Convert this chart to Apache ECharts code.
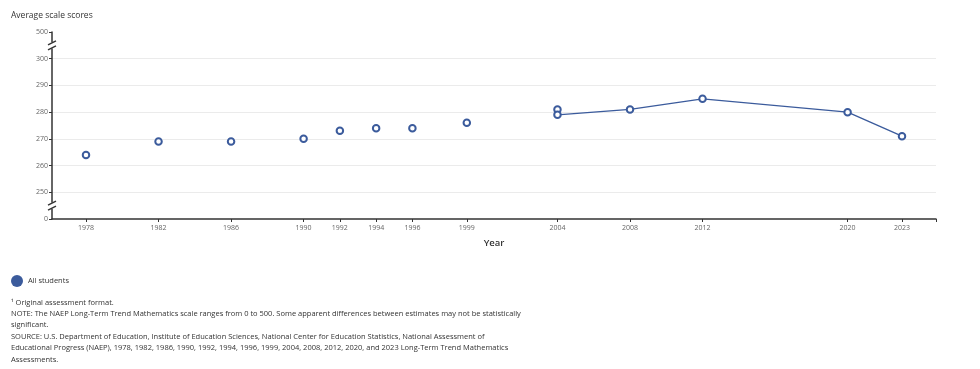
<!DOCTYPE html>
<html>
<head>
<meta charset="utf-8">
<script src="https://cdn.jsdelivr.net/npm/echarts@6/dist/echarts.min.js"></script>
<style>
html,body{margin:0;padding:0;background:#fff;}
#chart{width:980px;height:369px;}
</style>
</head>
<body>
<div id="chart"></div>
<script>
// Data
const tickYears = [1978, 1982, 1986, 1990, 1992, 1994, 1996, 1999, 2004, 2008, 2012, 2020, 2023];
const originalYears = [1978, 1982, 1986, 1990, 1992, 1994, 1996, 1999, 2004];
const originalScores = [264, 269, 269, 270, 273, 274, 274, 276, 281];
const revisedYears = [2004, 2008, 2012, 2020, 2023];
const revisedScores = [279, 281, 285, 280, 271];
const yTickValues = [250, 260, 270, 280, 290, 300];
const yBreakLowLabel = '0';
const yBreakHighLabel = '500';
const seriesName = 'All students';
const footnotes = [
  '\u00b9 Original assessment format.',
  'NOTE: The NAEP Long-Term Trend Mathematics scale ranges from 0 to 500. Some apparent differences between estimates may not be statistically',
  'significant.',
  'SOURCE: U.S. Department of Education, Institute of Education Sciences, National Center for Education Statistics, National Assessment of',
  'Educational Progress (NAEP), 1978, 1982, 1986, 1990, 1992, 1994, 1996, 1999, 2004, 2008, 2012, 2020, and 2023 Long-Term Trend Mathematics',
  'Assessments.'
];

const FONT = '"Open Sans", "Noto Sans", sans-serif';
const BLUE = '#3b5b9c';
const X_MIN = 1976.125, X_MAX = 2024.875;
const Y_MIN = 240, Y_MAX = 310;

const chart = echarts.init(document.getElementById('chart'), null, {renderer: 'canvas'});

const footGraphics = footnotes.map((t, i) => ({
  type: 'text', left: 11, top: 298.5 + i * 11.4,
  style: {text: t, font: '7.5px ' + FONT, fill: '#333'}
}));

const markerStyle = {color: BLUE, borderColor: BLUE, borderWidth: 3, opacity: 1};

chart.setOption({
  animation: false,
  backgroundColor: '#fff',
  title: {
    text: 'Average scale scores', left: 11, top: 11, padding: 0,
    textStyle: {fontFamily: FONT, fontSize: 8.5, fontWeight: 'normal', color: '#333'}
  },
  legend: {
    data: [seriesName], left: 11, top: 275, padding: 0, icon: 'circle',
    itemWidth: 12, itemHeight: 12, itemGap: 5,
    itemStyle: {color: BLUE, borderWidth: 0, opacity: 1},
    textStyle: {fontFamily: FONT, fontSize: 7.5, color: '#333'}
  },
  grid: {left: 52, right: 44, top: 32, bottom: 150, containLabel: false},
  xAxis: {
    type: 'value', min: X_MIN, max: X_MAX,
    name: 'Year', nameLocation: 'middle', nameGap: 19,
    nameTextStyle: {fontFamily: FONT, fontSize: 9.5, color: '#333', fontWeight: 600},
    axisLine: {lineStyle: {color: '#333', width: 1.5}},
    axisTick: {show: true, length: 3, customValues: tickYears.concat([X_MAX]), lineStyle: {color: '#333'}},
    axisLabel: {customValues: tickYears, fontFamily: FONT, fontSize: 7, color: '#666', margin: 5,
      formatter: v => String(v)},
    splitLine: {show: false}
  },
  yAxis: {
    type: 'value', min: Y_MIN, max: Y_MAX, interval: 10,
    axisLine: {show: true, lineStyle: {color: '#333', width: 1.5}},
    axisTick: {show: true, length: 3, lineStyle: {color: '#333'}},
    axisLabel: {
      fontFamily: FONT, fontSize: 7, color: '#666', margin: 4,
      formatter: v => v === Y_MIN ? yBreakLowLabel : (v === Y_MAX ? yBreakHighLabel : (yTickValues.indexOf(v) >= 0 ? String(v) : ''))
    },
    splitLine: {show: true, showMinLine: false, showMaxLine: false, lineStyle: {color: '#ebebeb', width: 1}}
  },
  series: [
    {
      name: seriesName, type: 'scatter',
      data: originalYears.map((y, i) => [y, originalScores[i]]),
      symbol: 'emptyCircle', symbolSize: 6.5,
      itemStyle: markerStyle,
      z: 3
    },
    {
      name: seriesName, type: 'line',
      data: revisedYears.map((y, i) => [y, revisedScores[i]]),
      symbol: 'emptyCircle', symbolSize: 6.5, showSymbol: true,
      lineStyle: {color: BLUE, width: 1.3},
      itemStyle: markerStyle,
      z: 3
    }
  ],
  graphic: footGraphics
});

// Axis break marks on the y axis
function breakMark(val) {
  const p = chart.convertToPixel({gridIndex: 0}, [X_MIN, val]);
  const x = p[0], y = p[1];
  return [
    {type: 'rect', shape: {x: x - 3, y: y - 3, width: 6, height: 6}, style: {fill: '#fff'}, z: 100},
    {type: 'line', shape: {x1: x - 4, y1: y - 0.5, x2: x + 4, y2: y - 4.5}, style: {stroke: '#333', lineWidth: 1.3}, z: 101},
    {type: 'line', shape: {x1: x - 4, y1: y + 4.5, x2: x + 4, y2: y + 0.5}, style: {stroke: '#333', lineWidth: 1.3}, z: 101}
  ];
}
chart.setOption({
  graphic: footGraphics.concat(breakMark((Y_MAX + 300) / 2), breakMark((Y_MIN + 250) / 2))
});
</script>
</body>
</html>
